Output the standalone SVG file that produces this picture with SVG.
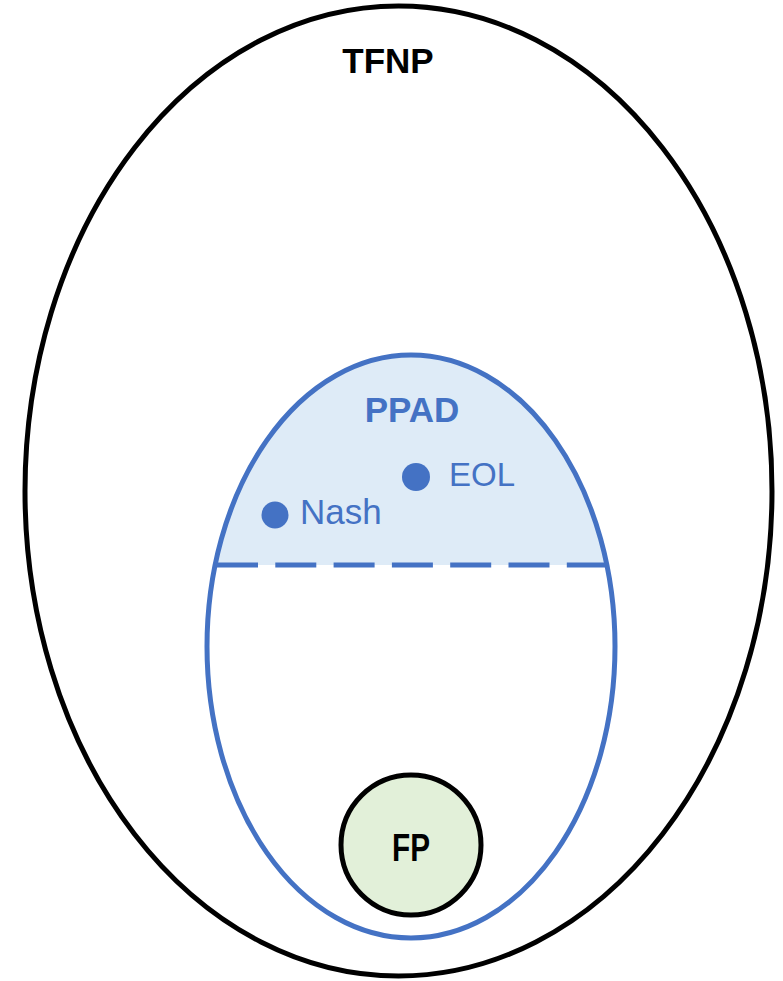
<svg xmlns="http://www.w3.org/2000/svg" width="783" height="981" viewBox="0 0 783 981">
  <style>
    .outline { fill: none; stroke: #000; stroke-width: 5; }
    .blue { fill: none; stroke: #4472C4; stroke-width: 5; }
    .cap { fill: #DEEBF7; stroke: none; }
    .lbl-black { font-family: "Liberation Sans", Arial, sans-serif; font-weight: bold; fill: #000; }
    .lbl-blue { font-family: "Liberation Sans", Arial, sans-serif; fill: #4472C4; }
    .dot { fill: #4472C4; }
  </style>
  <rect width="783" height="981" fill="#fff"/>

  <!-- TFNP: outer class -->
  <g id="tfnp">
    <ellipse class="outline" cx="398.5" cy="491" rx="373.5" ry="485"/>
    <text class="lbl-black" x="388" y="73" font-size="35" text-anchor="middle">TFNP</text>
  </g>

  <!-- PPAD: shaded upper cap, boundary, dashed divider -->
  <g id="ppad">
    <path class="cap" d="M215.1,565 A204,291.5 0 0 1 606.9,565 Z"/>
    <ellipse class="blue" cx="411" cy="646.5" rx="204" ry="291.5"/>
    <line class="blue" x1="217" y1="565" x2="605" y2="565" stroke-dasharray="41 17.3"/>
    <text class="lbl-blue" x="412" y="422" font-size="35" font-weight="bold" text-anchor="middle">PPAD</text>
  </g>

  <g id="eol">
    <circle class="dot" cx="416" cy="477" r="14"/>
    <text class="lbl-blue" x="449" y="486" font-size="33">EOL</text>
  </g>

  <g id="nash">
    <circle class="dot" cx="275" cy="515" r="13.5"/>
    <text class="lbl-blue" x="300" y="524" font-size="35">Nash</text>
  </g>

  <!-- FP: innermost class -->
  <g id="fp">
    <circle cx="411" cy="845" r="70" fill="#E2F0D9" stroke="#000" stroke-width="5"/>
    <text class="lbl-black" x="411" y="861" font-size="38" text-anchor="middle" textLength="38" lengthAdjust="spacingAndGlyphs">FP</text>
  </g>

  <g id="connectors"/>
</svg>
